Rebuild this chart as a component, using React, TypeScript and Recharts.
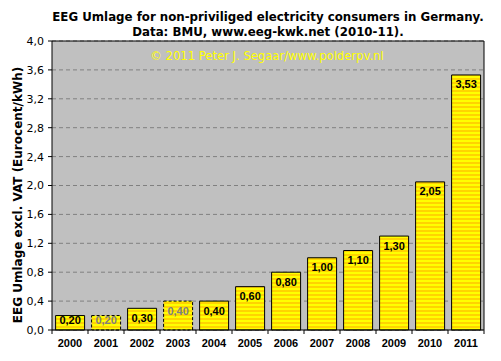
import React from "react";
import { BarChart, Bar, XAxis, YAxis, CartesianGrid, ReferenceLine, Cell, LabelList } from "recharts";

const years = ["2000", "2001", "2002", "2003", "2004", "2005", "2006", "2007", "2008", "2009", "2010", "2011"];
const values = [0.2, 0.2, 0.3, 0.4, 0.4, 0.6, 0.8, 1.0, 1.1, 1.3, 2.05, 3.53];
const estimated = [false, true, false, true, false, false, false, false, false, false, false, false];
const yTicks = [0, 0.4, 0.8, 1.2, 1.6, 2.0, 2.4, 2.8, 3.2, 3.6, 4.0];

const titleLine1 = "EEG Umlage for non-priviliged electricity consumers in Germany.";
const titleLine2 = "Data: BMU, www.eeg-kwk.net (2010-11).";
const copyright = "© 2011 Peter J. Segaar/www.polderpv.nl";
const yLabel = "EEG Umlage excl. VAT (Eurocent/kWh)";

const data = years.map((y, i) => ({ year: y, value: values[i], est: estimated[i] }));

const W = 501;
const H = 361;
const PLOT_LEFT = 52;
const PLOT_RIGHT = 484;
const PLOT_TOP = 41;
const PLOT_BOTTOM = 330;
const HALF_BAND = (PLOT_RIGHT - PLOT_LEFT) / years.length / 2;

const fmt = (v: number, d: number) => v.toFixed(d).replace(".", ",");

const XTick = (props: any) => {
  const { x, y, payload, index } = props;
  return (
    <g>
      <line x1={x - HALF_BAND} x2={x - HALF_BAND} y1={y} y2={y + 4} stroke="#000" />
      {index === years.length - 1 && (
        <line x1={x + HALF_BAND} x2={x + HALF_BAND} y1={y} y2={y + 4} stroke="#000" />
      )}
      <text x={x} y={y + 17} textAnchor="middle" fontFamily="Liberation Sans, Arial, sans-serif" fontWeight="bold" fontSize={11} fill="#000">
        {payload.value}
      </text>
    </g>
  );
};

const BarLabel = (props: any) => {
  const { x, y, width, index, value } = props;
  const cy = Math.min(y + 9.5, PLOT_BOTTOM - 10);
  return (
    <text
      x={x + width / 2}
      y={cy}
      textAnchor="middle"
      dominantBaseline="central"
      fontFamily="Liberation Sans, Arial, sans-serif"
      fontWeight="bold"
      fontSize={11}
      fill={estimated[index] ? "#808080" : "#000"}
    >
      {fmt(value, 2)}
    </text>
  );
};

export default function App() {
  return (
    <div style={{ position: "absolute", left: 0, top: 0, width: W, height: H, background: "#fff" }}>
      <svg width={0} height={0} style={{ position: "absolute" }}>
        <defs>
          <pattern id="stripes" patternUnits="userSpaceOnUse" width={4} height={4}>
            <rect x={0} y={0} width={4} height={2} fill="#FFFF00" />
            <rect x={0} y={2} width={4} height={2} fill="#FFD400" />
          </pattern>
        </defs>
      </svg>
      <BarChart
        width={W}
        height={H}
        data={data}
        margin={{ top: PLOT_TOP, right: W - PLOT_RIGHT - 1, bottom: 0, left: 0 }}
        barCategoryGap="10%"
      >
        <CartesianGrid vertical={false} stroke="#808080" strokeDasharray="4 3" fill="#C0C0C0" />
        <XAxis
          dataKey="year"
          tickLine={false}
          tickSize={0}
          tickMargin={0}
          axisLine={{ stroke: "#000" }}
          tick={<XTick />}
          interval={0}
          height={H - PLOT_BOTTOM}
        />
        <YAxis
          domain={[0, 4]}
          ticks={yTicks}
          width={PLOT_LEFT}
          tickSize={4}
          tickMargin={4}
          interval={0}
          axisLine={{ stroke: "#000" }}
          tickLine={{ stroke: "#000" }}
          tickFormatter={(v: number) => fmt(v, 1)}
          tick={{ fontFamily: "DejaVu Sans, Verdana, sans-serif", fontSize: 11, fill: "#000" }}
        />
        <YAxis
          yAxisId="right"
          orientation="right"
          domain={[0, 4]}
          width={1}
          tick={false}
          tickLine={false}
          axisLine={{ stroke: "#000" }}
        />
        <ReferenceLine y={4} stroke="#000" strokeDasharray="0" />
        <Bar dataKey="value" fill="url(#stripes)" stroke="#000" strokeWidth={1} isAnimationActive={false}>
          {data.map((d, i) => (
            <Cell key={i} fill="url(#stripes)" stroke="#000" strokeDasharray={d.est ? "3 2" : undefined} />
          ))}
          <LabelList dataKey="value" content={<BarLabel />} />
        </Bar>
        <text x={(PLOT_LEFT + PLOT_RIGHT) / 2} y={21} textAnchor="middle" fontFamily="DejaVu Sans, Verdana, sans-serif" fontWeight="bold" fontSize={11.8} fill="#000">
          {titleLine1}
        </text>
        <text x={(PLOT_LEFT + PLOT_RIGHT) / 2} y={35.5} textAnchor="middle" fontFamily="DejaVu Sans, Verdana, sans-serif" fontWeight="bold" fontSize={11.8} fill="#000">
          {titleLine2}
        </text>
        <text x={267} y={60} textAnchor="middle" fontFamily="DejaVu Sans, Verdana, sans-serif" fontSize={11.6} fill="#FFFF00">
          {copyright}
        </text>
        <text
          x={22}
          y={195}
          transform="rotate(-90 22 195)"
          textAnchor="middle"
          fontFamily="DejaVu Sans, Verdana, sans-serif"
          fontWeight="bold"
          fontSize={12}
          fill="#000"
        >
          {yLabel}
        </text>
      </BarChart>
    </div>
  );
}
